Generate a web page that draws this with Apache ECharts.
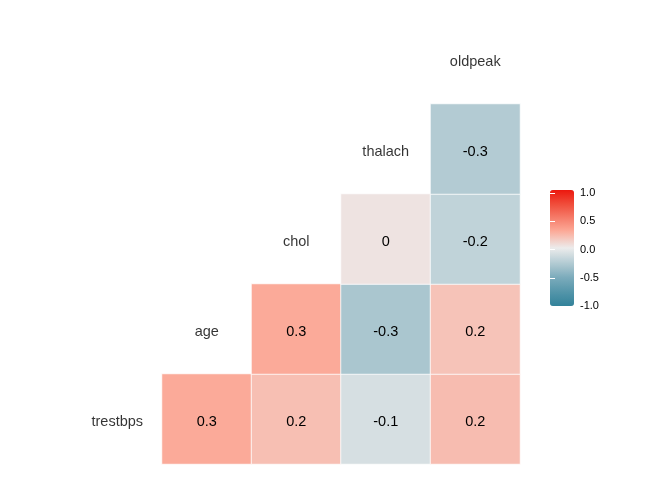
<!DOCTYPE html>
<html>
<head>
<meta charset="utf-8">
<script src="https://cdn.jsdelivr.net/npm/echarts@6/dist/echarts.min.js"></script>
<style>html,body{margin:0;padding:0;background:#fff}#c{width:672px;height:480px}</style>
</head>
<body>
<div id="c"></div>
<script>
// Variables in display order (bottom-left diagonal to top-right)
const variables = ['trestbps', 'age', 'chol', 'thalach', 'oldpeak'];
// Correlation tiles: [column variable index, row variable index, r]
const rowTrestbps = [[1, 0, 0.29], [2, 0, 0.20], [3, 0, -0.10], [4, 0, 0.21]];
const rowAge      = [[2, 1, 0.29], [3, 1, -0.30], [4, 1, 0.18]];
const rowChol     = [[3, 2, 0.04], [4, 2, -0.20]];
const rowThalach  = [[4, 3, -0.26]];
const legendTicks = [-1, -0.5, 0, 0.5, 1];

// Colour gradient stops (value -> colour), diverging teal / grey / red
const stopValues = [-1, -0.75, -0.5, -0.3, 0, 0.3, 0.5, 0.75, 1];
const stopColors = ['#32829A', '#5596AA', '#7DACBC', '#AAC6CF', '#ECECEC', '#FCA896', '#F6806E', '#F04E3C', '#EC180E'];

// Build a dense colour list so the continuous scale follows the stops
function hex2rgb(h){return [1,3,5].map(i=>parseInt(h.substr(i,2),16));}
function colorAt(v){
  for (let i = 0; i < stopValues.length - 1; i++) {
    if (v <= stopValues[i+1]) {
      const t = (v - stopValues[i]) / (stopValues[i+1] - stopValues[i]);
      const a = hex2rgb(stopColors[i]), b = hex2rgb(stopColors[i+1]);
      return 'rgb(' + a.map((x,k)=>Math.round(x + (b[k]-x)*t)).join(',') + ')';
    }
  }
  return stopColors[stopColors.length-1];
}
const N = 200;
const denseColors = [];
for (let i = 0; i <= N; i++) denseColors.push(colorAt(-1 + 2 * i / N));

const tiles = [].concat(rowTrestbps, rowAge, rowChol, rowThalach);
const fmt = v => String(Number(v.toFixed(1)));
const FONT = 'Liberation Sans, Arial, Helvetica, sans-serif';

const chart = echarts.init(document.getElementById('c'));
chart.setOption({
  animation: false,
  backgroundColor: '#fff',
  grid: [
    {left: 72.5, top: 14, width: 447.5, height: 450},
    {left: 550, top: 193, width: 24, height: 113}
  ],
  xAxis: [
    {type: 'category', data: variables, gridIndex: 0, show: false},
    {type: 'value', gridIndex: 1, show: false, min: 0, max: 1}
  ],
  yAxis: [
    {type: 'category', data: variables, gridIndex: 0, show: false},
    {type: 'value', gridIndex: 1, min: -1, max: 1, interval: 0.5, position: 'right', z: 10,
     axisLine: {show: false}, splitLine: {show: false},
     axisTick: {show: true, inside: true, length: 5, lineStyle: {color: '#fff', width: 1}},
     axisLabel: {margin: 6, fontSize: 11, color: '#000', fontFamily: FONT, formatter: v => v.toFixed(1)}},
    {type: 'value', gridIndex: 1, min: -1, max: 1, interval: 0.5, position: 'left', z: 10,
     axisLine: {show: false}, splitLine: {show: false}, axisLabel: {show: false},
     axisTick: {show: true, inside: true, length: 5, lineStyle: {color: '#fff', width: 1}}}
  ],
  visualMap: {
    type: 'continuous', min: -1, max: 1, seriesIndex: 0,
    calculable: false, realtime: false, showLabel: false, text: null,
    orient: 'vertical', left: 550, top: 190, itemWidth: 24, itemHeight: 116,
    inRange: {color: denseColors}, padding: 0
  },
  series: [
    {
      type: 'heatmap', xAxisIndex: 0, yAxisIndex: 0,
      data: tiles,
      itemStyle: {borderColor: '#ffffff', borderWidth: 0.8},
      label: {show: true, formatter: p => fmt(p.value[2]), fontSize: 14.5, color: '#000', fontFamily: FONT, offset: [0, 2.5]},
      emphasis: {disabled: true}
    },
    {
      type: 'scatter', xAxisIndex: 0, yAxisIndex: 0, symbolSize: 0, silent: true,
      data: variables.map((v, i) => [i, i, v]),
      label: {show: true, position: 'inside', formatter: p => p.value[2], fontSize: 14.5, color: '#000', fontFamily: FONT, offset: [0, 2.5]}
    },
    {
      type: 'scatter', xAxisIndex: 1, yAxisIndex: 1, symbolSize: 0, silent: true,
      data: legendTicks.map(t => [0, t])
    }
  ]
});
</script>
</body>
</html>
